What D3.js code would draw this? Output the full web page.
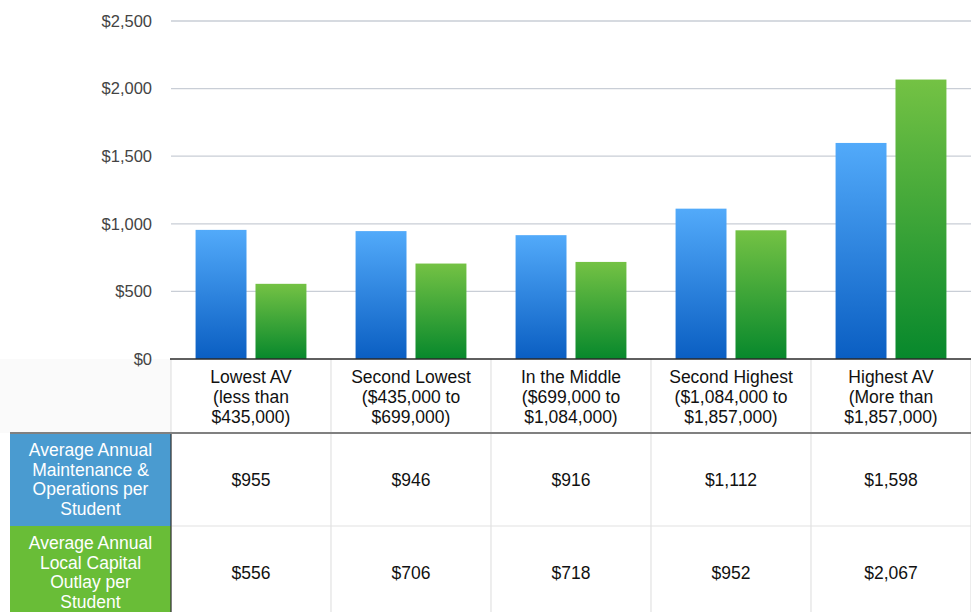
<!DOCTYPE html>
<html>
<head>
<meta charset="utf-8">
<script src="https://cdn.jsdelivr.net/npm/d3@7"></script>
<style>
  body { margin: 0; background: #fff; }
  svg { display: block; font-family: "Helvetica Neue", "Liberation Sans", Arial, sans-serif; }
</style>
</head>
<body>
<script>
// data
const categories = [
  ["Lowest AV", "(less than", "$435,000)"],
  ["Second Lowest", "($435,000 to", "$699,000)"],
  ["In the Middle", "($699,000 to", "$1,084,000)"],
  ["Second Highest", "($1,084,000 to", "$1,857,000)"],
  ["Highest AV", "(More than", "$1,857,000)"]
];
const seriesNames = [
  ["Average Annual", "Maintenance &", "Operations per", "Student"],
  ["Average Annual", "Local Capital", "Outlay per", "Student"]
];
const maintenance = [955, 946, 916, 1112, 1598];
const capital = [556, 706, 718, 952, 2067];
const yTicks = [0, 500, 1000, 1500, 2000, 2500];

function main() {
  const width = 971, height = 612;
  const left = 171, right = 971, top = 21, bottom = 359;
  const series = [maintenance, capital];
  const fs = 17.5;

  const svg = d3.select("body").append("svg")
    .attr("width", width)
    .attr("height", height);

  const defs = svg.append("defs");
  const grads = [["gBlue", "#52aafa", "#0a5ec2"], ["gGreen", "#74c244", "#07882c"]];
  grads.forEach(([id, c1, c2]) => {
    const g = defs.append("linearGradient").attr("id", id)
      .attr("x1", 0).attr("y1", 0).attr("x2", 0).attr("y2", 1);
    g.append("stop").attr("offset", "0%").attr("stop-color", c1);
    g.append("stop").attr("offset", "100%").attr("stop-color", c2);
  });

  const x = d3.scaleBand().domain(d3.range(categories.length)).range([left, right]);
  const xs = d3.scaleBand().domain([0, 1]).range([0, x.bandwidth()])
    .paddingInner(0.15).paddingOuter(0.41);
  const y = d3.scaleLinear().domain([0, 2500]).range([bottom, top]);

  // grid
  svg.append("g").selectAll("line").data(yTicks.slice(1)).join("line")
    .attr("x1", left).attr("x2", right)
    .attr("y1", d => y(d)).attr("y2", d => y(d))
    .attr("stroke", "#c9ced6").attr("stroke-width", 1.3);

  // bars
  series.forEach((vals, si) => {
    svg.append("g").selectAll("rect").data(vals).join("rect")
      .attr("x", (d, i) => x(i) + xs(si))
      .attr("width", xs.bandwidth())
      .attr("y", d => y(d))
      .attr("height", d => y(0) - y(d))
      .attr("fill", `url(#${grads[si][0]})`);
  });

  // table
  const rowTop = 433, rowH = 93;
  const tbl = svg.append("g");
  tbl.append("rect").attr("x", 0).attr("y", bottom).attr("width", left).attr("height", rowTop - bottom)
    .attr("fill", "#fafafa");
  // cell vertical lines
  tbl.selectAll("line.v").data(d3.range(categories.length + 1)).join("line")
    .attr("class", "v")
    .attr("x1", i => i < categories.length ? x(i) : right)
    .attr("x2", i => i < categories.length ? x(i) : right)
    .attr("y1", bottom).attr("y2", height)
    .attr("stroke", "#e2e2e2").attr("stroke-width", 1.2);
  tbl.append("line")
    .attr("x1", left).attr("x2", right)
    .attr("y1", rowTop + rowH).attr("y2", rowTop + rowH)
    .attr("stroke", "#e2e2e2").attr("stroke-width", 1.2);

  // row labels
  const rowColors = ["#4a9bd0", "#69bd37"];
  seriesNames.forEach((lines, si) => {
    const y0 = rowTop + si * rowH;
    tbl.append("rect").attr("x", 10).attr("y", y0).attr("width", left - 10).attr("height", rowH)
      .attr("fill", rowColors[si]);
    tbl.append("text")
      .attr("text-anchor", "middle").attr("font-size", fs).attr("fill", "#fff")
      .selectAll("tspan").data(lines).join("tspan")
      .attr("x", (10 + left) / 2)
      .attr("y", (d, i) => y0 + rowH / 2 + (i - 1.5) * 19.5)
      .attr("dy", "0.35em")
      .text(d => d);
    // values
    tbl.append("g").selectAll("text").data(series[si]).join("text")
      .attr("x", (d, i) => x(i) + x.bandwidth() / 2)
      .attr("y", y0 + rowH / 2)
      .attr("dy", "0.35em")
      .attr("text-anchor", "middle")
      .attr("font-size", fs)
      .attr("fill", "#111")
      .text(d => d3.format("$,")(d));
  });
  tbl.append("line").attr("x1", left).attr("x2", left).attr("y1", rowTop).attr("y2", height)
    .attr("stroke", "#333").attr("stroke-width", 1.2);

  // header labels
  categories.forEach((lines, i) => {
    tbl.append("text")
      .attr("text-anchor", "middle").attr("font-size", fs).attr("fill", "#111")
      .selectAll("tspan").data(lines).join("tspan")
      .attr("x", x(i) + x.bandwidth() / 2)
      .attr("y", (d, j) => 377 + j * 20)
      .attr("dy", "0.35em")
      .text(d => d);
  });

  tbl.append("line").attr("x1", 10).attr("x2", right).attr("y1", rowTop).attr("y2", rowTop)
    .attr("stroke", "#808080").attr("stroke-width", 2);

  // y axis labels
  svg.append("g").selectAll("text").data(yTicks).join("text")
    .attr("x", 152).attr("y", d => y(d))
    .attr("dy", "0.35em")
    .attr("text-anchor", "end")
    .attr("font-size", 16.5)
    .attr("fill", "#444")
    .text(d => d3.format("$,")(d));

  // x axis line
  svg.append("line").attr("x1", left - 1).attr("x2", right)
    .attr("y1", y(0)).attr("y2", y(0))
    .attr("stroke", "#2a2a2a").attr("stroke-width", 1.5);
}

window.addEventListener("load", main);
</script>
</body>
</html>
